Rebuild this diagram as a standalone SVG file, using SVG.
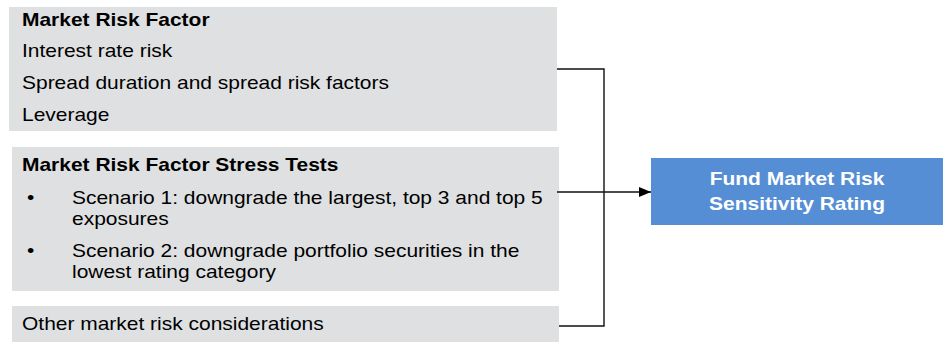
<svg xmlns="http://www.w3.org/2000/svg" width="948" height="342" viewBox="0 0 948 342">
<style>
.box{fill:#DFE0E2;}
.t{font-family:"Liberation Sans",Arial,sans-serif;font-size:18px;fill:#000;}
.b{font-weight:bold;}
.w{font-family:"Liberation Sans",Arial,sans-serif;font-size:18px;font-weight:bold;fill:#fff;text-anchor:middle;}
.c{fill:none;stroke:#111;stroke-width:1.4;}
</style>
<defs>
<marker id="ah" markerWidth="12" markerHeight="10" refX="12" refY="5" orient="auto" markerUnits="userSpaceOnUse">
<path d="M0,0 L12,5 L0,10 Z" fill="#000"/>
</marker>
</defs>
<g id="market-risk-factor">
<rect class="box" x="9" y="7" width="548" height="124"/>
<text class="t b" transform="translate(22,26) scale(1.165,1)">Market Risk Factor</text>
<text class="t" transform="translate(22,57) scale(1.165,1)">Interest rate risk</text>
<text class="t" transform="translate(22,89) scale(1.165,1)">Spread duration and spread risk factors</text>
<text class="t" transform="translate(22,121) scale(1.165,1)">Leverage</text>
</g>
<g id="stress-tests">
<rect class="box" x="12" y="147" width="547" height="144"/>
<text class="t b" transform="translate(22,171) scale(1.165,1)">Market Risk Factor Stress Tests</text>
<text class="t" transform="translate(27,204) scale(1.165,1)">•</text>
<text class="t" transform="translate(72,204) scale(1.165,1)">Scenario 1: downgrade the largest, top 3 and top 5</text>
<text class="t" transform="translate(72,225) scale(1.165,1)">exposures</text>
<text class="t" transform="translate(27,257) scale(1.165,1)">•</text>
<text class="t" transform="translate(72,257) scale(1.165,1)">Scenario 2: downgrade portfolio securities in the</text>
<text class="t" transform="translate(72,278) scale(1.165,1)">lowest rating category</text>
</g>
<g id="other-considerations">
<rect class="box" x="12" y="306" width="547" height="36"/>
<text class="t" transform="translate(22,330) scale(1.165,1)">Other market risk considerations</text>
</g>
<g id="rating">
<rect x="651" y="158" width="292" height="67" fill="#558ED5"/>
<text class="w" transform="translate(797,185) scale(1.165,1)">Fund Market Risk</text>
<text class="w" transform="translate(797,210) scale(1.165,1)">Sensitivity Rating</text>
</g>
<g id="connectors">
<path class="c" d="M557,69 H604 V326 H559"/>
<path class="c" d="M557,192 H651" marker-end="url(#ah)"/>
</g>
</svg>
